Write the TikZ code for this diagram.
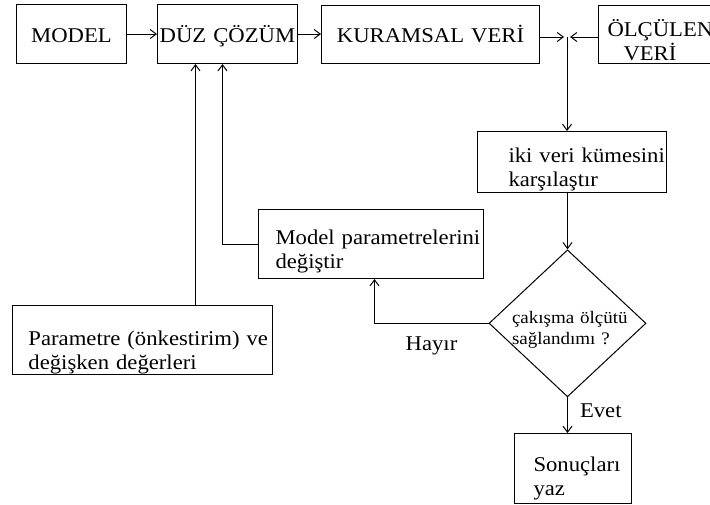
\documentclass[tikz,border=0pt]{standalone}
\usepackage{fontspec}
\setmainfont{Liberation Serif}[FakeStretch=1.08]
\usetikzlibrary{arrows,arrows.meta,shapes}

\begin{document}
\begin{tikzpicture}[->,>={Straight Barb[length=6pt,width=9pt]},x=1pt,y=-1pt,line width=1pt,
  box/.style={draw,rectangle,anchor=north west,inner sep=0pt,font=\fontsize{21}{24}\selectfont},
  kay/.style={text height=#1,text depth=0pt},
  karar/.style={draw,diamond,minimum width=157pt,minimum height=147pt,inner sep=0pt,
                text width=126pt,align=left,font=\fontsize{17.6}{21}\selectfont},
  etiket/.style={inner sep=0pt,font=\fontsize{21}{24}\selectfont}]
\useasboundingbox (0,0) rectangle (710,504);
\node[box,kay=16.4pt,text width=110pt,minimum height=59pt,align=center] (model) at (16,4) {MODEL};
\node[box,kay=16.4pt,text width=140pt,minimum height=59pt,align=center] (duz) at (157,4) {DÜZ ÇÖZÜM};
\node[box,kay=15.4pt,text width=218pt,minimum height=58pt,align=center] (kuramsal) at (321,5) {KURAMSAL VERİ};
\node[box,kay=4pt,text width=120pt,minimum height=58pt,align=left] (olculen) at (598,5)
   {\hspace*{9pt}ÖLÇÜLEN\\\hspace*{25pt}VERİ};
\coordinate (kavsak) at (567,37);
\node[box,kay=1pt,text width=189pt,minimum height=61pt,align=left] (karsilastir) at (477,131)
   {\hspace*{31pt}iki veri kümesini\\\hspace*{31pt}karşılaştır};
\node[box,kay=1pt,text width=225pt,minimum height=69pt,align=left] (degistir) at (258,209)
   {\hspace*{17pt}Model parametrelerini\\\hspace*{17pt}değiştir};
\node[box,kay=11pt,text width=260pt,minimum height=69pt,align=left] (onkestirim) at (11.5,305)
   {\hspace*{16.5pt}Parametre (önkestirim) ve\\\hspace*{16.5pt}değişken değerleri};
\node[karar,kay=0pt] (karar) at (567.5,323.3) {\hspace*{7.5pt}çakışma ölçütü\\\hspace*{7.5pt}sağlandımı ?};
\node[box,kay=6.8pt,text width=117pt,minimum height=70pt,align=left] (sonuc) at (514,433)
   {\hspace*{19pt}Sonuçları\\\hspace*{19pt}yaz};

\draw (model.east) -- (duz.west);
\draw (duz.east) -- (duz.east -| kuramsal.west);
\draw[shorten >=3pt] (kuramsal.east |- kavsak) -- (kavsak);
\draw[shorten >=3pt] (olculen.west |- kavsak) -- (kavsak);
\draw (kavsak) -- (kavsak |- karsilastir.north);
\draw (karar.north |- karsilastir.south) -- (karar.north);
\draw (karar.west) -| ([xshift=3.5pt]degistir.south)
      node[etiket,pos=0.25,anchor=base,yshift=-27.5pt] (hayir) {Hayır};
\draw (karar.south) -- (karar.south |- sonuc.north)
      node[etiket,midway,anchor=base west,xshift=12pt,yshift=-2pt] (evet) {Evet};
\draw ([xshift=-32pt]duz.south |- onkestirim.north) -- ([xshift=-32pt]duz.south);
\draw (degistir.west) -| ([xshift=-5pt]duz.south);
\end{tikzpicture}
\end{document}
